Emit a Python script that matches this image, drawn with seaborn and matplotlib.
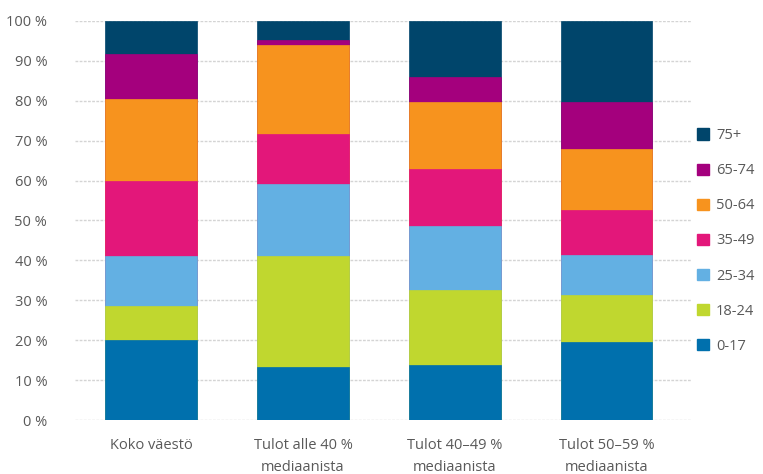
import matplotlib
matplotlib.use("Agg")
import matplotlib.pyplot as plt
import seaborn as sns
import pandas as pd
import numpy as np
from matplotlib.patches import Patch

categories = ["Koko väestö", "Tulot alle 40 %\nmediaanista", "Tulot 40–49 %\nmediaanista", "Tulot 50–59 %\nmediaanista"]
age_groups = ["0-17", "18-24", "25-34", "35-49", "50-64", "65-74", "75+"]
v_0_17 = [20.0, 13.3, 13.7, 19.6]
v_18_24 = [8.5, 27.7, 18.9, 11.7]
v_25_34 = [12.5, 18.1, 16.0, 10.1]
v_35_49 = [19.0, 12.5, 14.2, 11.3]
v_50_64 = [20.5, 22.5, 16.9, 15.3]
v_65_74 = [11.3, 1.2, 6.3, 11.7]
v_75p = [8.2, 4.7, 14.0, 20.3]
colors = ["#0070AD", "#C0D72F", "#63B0E3", "#E3177A", "#F7931E", "#A4007D", "#00456B"]
yticks = [0, 10, 20, 30, 40, 50, 60, 70, 80, 90, 100]

series = [v_0_17, v_18_24, v_25_34, v_35_49, v_50_64, v_65_74, v_75p]
df = pd.DataFrame({g: s for g, s in zip(age_groups, series)}, index=categories)
df = df.div(df.sum(axis=1), axis=0) * 100
cum = df.cumsum(axis=1)

sns.set_theme(style="white")
plt.rcParams["font.family"] = ["Open Sans", "DejaVu Sans"]

fig = plt.figure(figsize=(7.63, 4.74), dpi=100)
ax = fig.add_axes([75/763, 1-420/474, (692-75)/763, (420-21)/474])

for yv in yticks:
    ax.axhline(yv, color="#D4D4D4", lw=1.0, ls=(0, (2, 1)), zorder=0)

for i in range(len(age_groups) - 1, -1, -1):
    d = pd.DataFrame({"cat": categories, "val": cum[age_groups[i]].values})
    sns.barplot(data=d, x="cat", y="val", color=colors[i], width=0.6,
                saturation=1, ax=ax, zorder=2, edgecolor=colors[i], linewidth=0.5)

ax.set_xlim(-0.5, 3.56)
ax.set_ylim(0, 100)
ax.set_yticks(yticks)
ax.set_yticklabels([f"{t} %" for t in yticks])
ax.set_xlabel("")
ax.set_ylabel("")
for s in ax.spines.values():
    s.set_visible(False)
ax.tick_params(axis="y", colors="#595959", labelsize=10.5, length=0, pad=20)
ax.tick_params(axis="x", colors="#595959", labelsize=10.5, length=0, pad=13)
for lab in ax.get_xticklabels():
    lab.set_linespacing(1.6)

handles = [Patch(facecolor=c, edgecolor=c) for c in colors][::-1]
fig.legend(handles, age_groups[::-1], loc="upper left", bbox_to_anchor=(684/763, 1-115/474),
           frameon=False, fontsize=10.5, labelcolor="#595959", handlelength=0.8, handleheight=0.8,
           labelspacing=1.38, handletextpad=0.5)

fig.savefig("out.png", dpi=100)
